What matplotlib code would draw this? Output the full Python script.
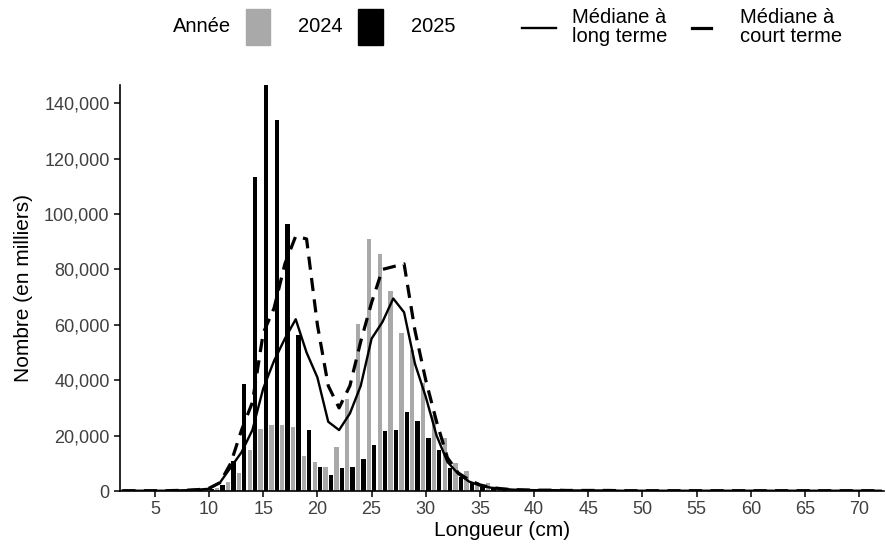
import matplotlib
matplotlib.use("Agg")
import matplotlib.pyplot as plt
from matplotlib.patches import Rectangle
from matplotlib.lines import Line2D
from matplotlib.ticker import FuncFormatter
import numpy as np

plt.rcParams["font.family"] = ["Liberation Sans", "DejaVu Sans"]
plt.rcParams["lines.scale_dashes"] = False

# longueurs (cm), valeurs en milliers
lengths = list(range(2, 73))

n_2024 = [
    0.1, 0.1, 0.1, 0.1, 0.1, 0.2, 0.3, 0.4,                         # 2-9
    0.6, 1.2, 3.4, 6.4, 14.7, 22.5, 23.7, 23.7, 23.1, 12.6,         # 10-19
    10.5, 8.5, 15.9, 33.3, 60.3, 91.0, 85.5, 72.3, 57.2, 51.0,      # 20-29
    39.0, 27.3, 19.0, 10.2, 7.3, 3.4, 3.0, 1.2, 0.8, 0.6,           # 30-39
    0.5, 0.4, 0.3, 0.3, 0.2, 0.2, 0.2, 0.2, 0.1, 0.1,               # 40-49
    0.1, 0.1, 0.1, 0.1, 0.1, 0.1, 0.1, 0.1, 0.1, 0.1,               # 50-59
    0.1, 0.1, 0.1, 0.1, 0.1, 0.1, 0.1, 0.1, 0.1, 0.1,               # 60-69
    0.1, 0.1, 0.1,                                                  # 70-72
]
n_2025 = [
    0.1, 0.1, 0.1, 0.1, 0.1, 0.2, 0.3, 0.5,                         # 2-9
    0.8, 2.0, 11.0, 38.5, 113.5, 146.5, 134.0, 96.5, 56.5, 22.0,    # 10-19
    8.5, 5.6, 8.2, 8.5, 11.7, 16.5, 21.7, 22.2, 28.5, 25.3,         # 20-29
    19.0, 14.7, 8.2, 5.2, 2.8, 1.5, 1.0, 0.6, 0.5, 0.4,             # 30-39
    0.3, 0.3, 0.2, 0.2, 0.2, 0.1, 0.1, 0.1, 0.1, 0.1,               # 40-49
    0.1, 0.1, 0.1, 0.1, 0.1, 0.1, 0.1, 0.1, 0.1, 0.1,               # 50-59
    0.1, 0.1, 0.1, 0.1, 0.1, 0.1, 0.1, 0.1, 0.1, 0.1,               # 60-69
    0.1, 0.1, 0.1,                                                  # 70-72
]
med_long = [
    0.1, 0.1, 0.1, 0.1, 0.1, 0.2, 0.3, 0.5,                         # 2-9
    0.8, 3.0, 8.5, 14.0, 22.0, 37.0, 47.0, 55.0, 62.0, 50.0,        # 10-19
    41.0, 25.0, 22.0, 28.0, 38.0, 55.0, 61.0, 69.5, 64.5, 46.0,     # 20-29
    34.0, 20.0, 10.5, 6.2, 3.4, 2.0, 1.2, 0.8, 0.5, 0.4,            # 30-39
    0.3, 0.3, 0.3, 0.2, 0.2, 0.2, 0.2, 0.2, 0.1, 0.1,               # 40-49
    0.1, 0.1, 0.1, 0.1, 0.1, 0.1, 0.1, 0.1, 0.1, 0.1,               # 50-59
    0.1, 0.1, 0.1, 0.1, 0.1, 0.1, 0.1, 0.1, 0.1, 0.1,               # 60-69
    0.1, 0.1, 0.1,                                                  # 70-72
]
med_court = [
    0.1, 0.1, 0.1, 0.1, 0.1, 0.2, 0.3, 0.5,                         # 2-9
    1.0, 3.0, 10.0, 22.0, 32.0, 57.0, 66.0, 82.0, 92.0, 91.0,       # 10-19
    60.0, 38.0, 30.0, 38.0, 54.0, 68.0, 80.0, 81.0, 82.0, 58.0,     # 20-29
    40.0, 25.0, 12.0, 6.5, 4.0, 2.2, 1.3, 0.8, 0.5, 0.4,            # 30-39
    0.3, 0.3, 0.3, 0.2, 0.2, 0.2, 0.2, 0.2, 0.1, 0.1,               # 40-49
    0.1, 0.1, 0.1, 0.1, 0.1, 0.1, 0.1, 0.1, 0.1, 0.1,               # 50-59
    0.1, 0.1, 0.1, 0.1, 0.1, 0.1, 0.1, 0.1, 0.1, 0.1,               # 60-69
    0.1, 0.1, 0.1,                                                  # 70-72
]

GREY = "#a9a9a9"
x = np.array(lengths)

fig = plt.figure(figsize=(8.86, 5.48), dpi=100)
ax = fig.add_axes([0.1354, 0.104, 0.862, 0.741])

ax.bar(x - 0.25, np.array(n_2024) * 1000, width=0.4, color=GREY, linewidth=0)
ax.bar(x + 0.25, np.array(n_2025) * 1000, width=0.4, color="black", linewidth=0)
ax.plot(x, np.array(med_long) * 1000, color="black", lw=1.7)
ax.plot(x, np.array(med_court) * 1000, color="black", lw=2.3, dashes=(9.5, 6))

ax.set_xlim(1.78, 72.26)
ax.set_ylim(0, 146600)
ax.set_xticks(range(5, 71, 5))
ax.set_yticks(range(0, 140001, 20000))
ax.yaxis.set_major_formatter(FuncFormatter(lambda v, p: f"{int(v):,}"))
ax.tick_params(labelsize=13, length=4, width=1.1, color="black", labelcolor="#404040")
for s in ("top", "right"):
    ax.spines[s].set_visible(False)
for s in ("left", "bottom"):
    ax.spines[s].set_linewidth(1.2)
ax.set_xlabel("Longueur (cm)", fontsize=15, labelpad=2)
ax.set_ylabel("Nombre (en milliers)", fontsize=15, labelpad=8)

# legende en haut, construite a la main (pixels -> fraction de figure)
W, H = 886, 548
def fx(px): return px / W
def fy(py): return 1 - py / H

LFS = 14.5
fig.text(fx(173), fy(27), "Année", fontsize=LFS, va="center", ha="left")
fig.patches.append(Rectangle((fx(246), fy(45)), fx(24), 36 / H, color=GREY,
                             transform=fig.transFigure, figure=fig))
fig.text(fx(298), fy(27), "2024", fontsize=LFS, va="center", ha="left")
fig.patches.append(Rectangle((fx(358), fy(45)), fx(25), 36 / H, color="black",
                             transform=fig.transFigure, figure=fig))
fig.text(fx(411), fy(27), "2025", fontsize=LFS, va="center", ha="left")

fig.lines.append(Line2D([fx(522), fx(556)], [fy(28), fy(28)], color="black", lw=1.7,
                        transform=fig.transFigure, figure=fig))
fig.text(fx(572), fy(27), "Médiane à\nlong terme", fontsize=LFS, va="center", ha="left",
         linespacing=1.0)
fig.lines.append(Line2D([fx(692), fx(711)], [fy(28), fy(28)], color="black", lw=2.3,
                        transform=fig.transFigure, figure=fig))
fig.text(fx(740), fy(27), "Médiane à\ncourt terme", fontsize=LFS, va="center", ha="left",
         linespacing=1.0)

fig.savefig("out.png", dpi=100)
